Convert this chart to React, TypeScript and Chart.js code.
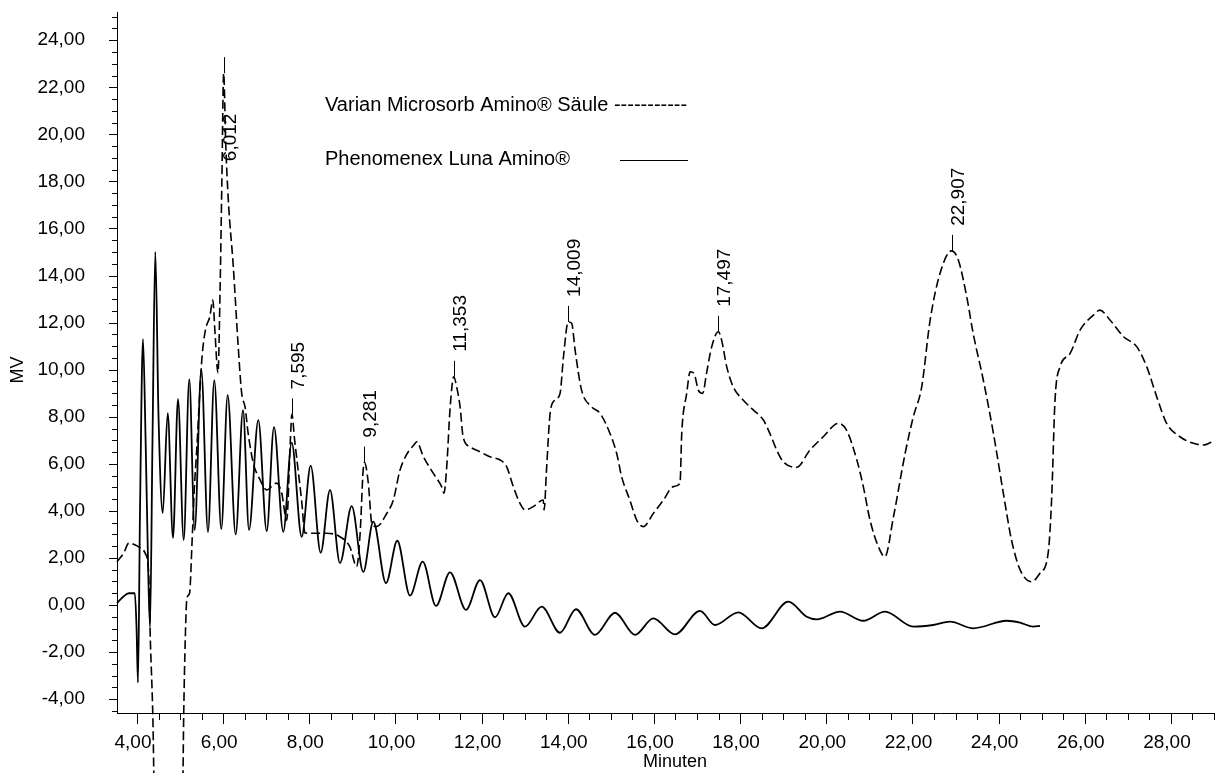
import { useEffect, useRef } from "react";
import { Chart, registerables } from "chart.js";

Chart.register(...registerables);

// ---- axis ticks ----
const X_TICKS = [4, 6, 8, 10, 12, 14, 16, 18, 20, 22, 24, 26, 28];
const Y_TICKS = [-4, -2, 0, 2, 4, 6, 8, 10, 12, 14, 16, 18, 20, 22, 24];
const X_MIN = 3.536;
const X_MAX = 29.0;
const Y_MIN = -4.59;
const Y_MAX = 25.2;

// ---- series names ----
const SERIES_NAMES = ["Varian Microsorb Amino® Säule", "Phenomenex Luna Amino®"];

// ---- Varian Microsorb Amino (dashed) ----
const VARIAN_X = [
  3.536, 3.69, 3.81, 3.96, 4.08, 4.19, 4.27, 4.31, 4.37, 4.4, 4.7, 5.06, 5.085, 5.12, 5.16, 5.22,
  5.28, 5.33, 5.39, 5.46, 5.51, 5.59, 5.69, 5.76, 5.81, 5.88, 5.93, 5.97, 6.012, 6.06, 6.12, 6.235,
  6.35, 6.43, 6.51, 6.58, 6.7, 6.86, 7.01, 7.24, 7.36, 7.475, 7.56, 7.595, 7.66, 7.82, 7.9, 8.09,
  8.4, 8.71, 8.94, 9.1, 9.18, 9.25, 9.281, 9.37, 9.45, 9.56, 9.8, 9.95, 10.1, 10.26, 10.45, 10.49,
  10.65, 10.88, 11.07, 11.126, 11.19, 11.27, 11.353, 11.42, 11.5, 11.57, 11.73, 11.96, 12.19, 12.43,
  12.58, 12.735, 12.89, 13.01, 13.2, 13.43, 13.45, 13.51, 13.59, 13.7, 13.82, 13.9, 14.009, 14.09,
  14.17, 14.32, 14.555, 14.75, 14.98, 15.135, 15.25, 15.44, 15.6, 15.75, 15.985, 16.22, 16.45,
  16.605, 16.645, 16.76, 16.84, 16.93, 17.03, 17.13, 17.22, 17.34, 17.497, 17.57, 17.69, 17.84,
  18.07, 18.31, 18.54, 18.69, 18.85, 19.0, 19.31, 19.62, 19.93, 20.28, 20.47, 20.71, 20.86, 21.015,
  21.21, 21.36, 21.56, 21.83, 22.02, 22.215, 22.41, 22.64, 22.907, 23.065, 23.26, 23.41, 23.645,
  23.88, 24.11, 24.3, 24.5, 24.77, 24.96, 25.15, 25.23, 25.31, 25.425, 25.66, 25.89, 26.2, 26.35,
  26.59, 26.9, 27.21, 27.44, 27.67, 27.9, 28.21, 28.52, 28.75, 29.02,
];
const VARIAN_Y = [
  1.84, 2.2, 2.63, 2.55, 2.42, 2.2, 1.36, -1.49, -4.9, -8.0, -14.0, -8.0, -4.6, -1.49, 0.3, 0.5,
  2.76, 4.9, 6.7, 9.1, 10.55, 11.7, 12.25, 12.96, 11.6, 9.86, 13.5, 18.0, 22.6, 19.6, 17.2, 14.4,
  10.97, 9.0, 8.4, 7.3, 6.03, 5.31, 4.89, 5.18, 4.75, 3.6, 7.0, 8.1, 7.0, 4.46, 3.06, 3.05,
  3.05, 2.9, 2.48, 1.63, 3.06, 5.73, 6.05, 5.18, 3.48, 3.33, 3.9, 4.46, 5.7, 6.4, 6.85, 6.94,
  6.3, 5.59, 5.03, 4.75, 5.88, 8.42, 9.7, 9.27, 8.42, 7.15, 6.72, 6.51, 6.3, 6.16,
  5.88, 5.03, 4.32, 4.04, 4.18, 4.46, 4.04, 5.88, 8.14, 8.71, 8.99, 10.55, 12.03, 11.97,
  10.83, 9.13, 8.42, 8.14, 7.29, 6.44, 5.45, 4.46, 3.61, 3.33, 3.89, 4.46, 5.03,
  5.17, 7.29, 8.99, 9.91, 9.84, 9.13, 8.99, 9.84, 10.97, 11.61, 11.26, 10.12, 9.27,
  8.71, 8.28, 7.86, 7.29, 6.58, 6.09, 5.85, 6.58, 7.15, 7.72, 7.43, 6.16, 5.03, 3.61,
  2.48, 2.05, 3.75, 6.44, 8.0, 9.27, 12.1, 14.09, 15.05, 14.66, 13.1, 11.54, 9.56,
  7.29, 4.75, 2.76, 1.49, 0.99, 1.35, 2.2, 4.46, 8.71, 10.12, 10.69, 11.68, 12.32, 12.53,
  12.1, 11.4, 10.97, 10.12, 8.85, 7.72, 7.15, 6.87, 6.8, 7.0,
];

// ---- Phenomenex Luna Amino (solid) ----
const LUNA_X = [
  3.536, 3.68, 3.81, 3.95, 3.99, 4.023, 4.07, 4.139, 4.2, 4.26, 4.302, 4.36, 4.425, 4.5, 4.597,
  4.713, 4.836, 4.952, 5.084, 5.214, 5.339, 5.493, 5.648, 5.794, 5.957, 6.105, 6.291, 6.461, 6.6,
  6.816, 7.011, 7.18, 7.396, 7.591, 7.823, 8.032, 8.264, 8.48, 8.712, 8.984, 9.253, 9.485, 9.78,
  10.042, 10.337, 10.632, 10.941, 11.266, 11.637, 11.962, 12.31, 12.619, 13.006, 13.394, 13.819,
  14.19, 14.631, 15.096, 15.56, 15.985, 16.488, 17.069, 17.417, 17.958, 18.501, 19.118, 19.545,
  19.778, 20.319, 20.859, 21.363, 22.02, 22.484, 22.872, 23.413, 24.188, 24.497, 24.806, 24.961,
];
const LUNA_Y = [
  0.08, 0.35, 0.5, 0.5, -1.0, -3.3, 4.0, 11.3, 7.0, 1.5, -0.93, 7.0, 15.0, 8.0, 3.9,
  8.15, 2.85, 8.75, 2.76, 9.6, 3.19, 10.0, 3.1, 9.56, 3.23, 8.92, 3.0, 8.28, 3.19,
  7.86, 3.14, 7.56, 3.11, 6.9, 2.9, 5.92, 2.22, 4.89, 1.78, 4.2, 1.41, 3.54, 0.93,
  2.73, 0.4, 1.84, -0.04, 1.39, -0.21, 1.06, -0.52, 0.5, -0.92, -0.07, -1.18,
  -0.18, -1.27, -0.33, -1.27, -0.57, -1.25, -0.25, -0.85, -0.31, -0.99, 0.14, -0.5,
  -0.61, -0.28, -0.67, -0.28, -0.92, -0.85, -0.71, -0.99, -0.67, -0.75, -0.92, -0.89,
];

// ---- peak annotations (Varian trace) ----
const PEAK_X = [6.012, 7.595, 9.281, 11.353, 14.009, 17.497, 22.907];
const PEAK_Y = [22.6, 8.1, 6.05, 9.7, 12.03, 11.61, 15.05];
const PEAK_LABELS = ["6,012", "7,595", "9,281", "11,353", "14,009", "17,497", "22,907"];

const FONT = '"Liberation Sans", Arial, sans-serif';

const fmt = (v: number) => Number(v).toFixed(2).replace(".", ",");

const overlayPlugin = {
  id: "overlay",
  afterDraw(chart: any) {
    const { ctx, chartArea } = chart;
    const xs = chart.scales.x;
    const ys = chart.scales.y;
    ctx.save();
    ctx.strokeStyle = "#000";
    ctx.fillStyle = "#000";
    ctx.lineWidth = 1;

    // x tick marks (minor every 0.5, major every 2)
    for (let v = Math.ceil(xs.min * 2) / 2; v <= xs.max + 1e-9; v += 0.5) {
      const px = Math.round(xs.getPixelForValue(v)) + 0.5;
      const major = Math.abs(v / 2 - Math.round(v / 2)) < 1e-9;
      ctx.beginPath();
      ctx.moveTo(px, chartArea.bottom);
      ctx.lineTo(px, chartArea.bottom + (major ? 11 : 7));
      ctx.stroke();
    }
    // y tick marks
    for (let v = Math.ceil(ys.min * 2) / 2; v <= ys.max + 1e-9; v += 0.5) {
      const py = Math.round(ys.getPixelForValue(v)) + 0.5;
      const major = Math.abs(v / 2 - Math.round(v / 2)) < 1e-9;
      ctx.beginPath();
      ctx.moveTo(chartArea.left, py);
      ctx.lineTo(chartArea.left - (major ? 8 : 5), py);
      ctx.stroke();
    }

    // peak labels
    ctx.font = `19px ${FONT}`;
    for (let i = 0; i < PEAK_X.length; i++) {
      const px = Math.round(xs.getPixelForValue(PEAK_X[i])) + 0.5;
      const py = ys.getPixelForValue(PEAK_Y[i]);
      const lineTop = py - 16;
      ctx.beginPath();
      ctx.moveTo(px, py);
      ctx.lineTo(px, lineTop);
      ctx.stroke();
      const w = ctx.measureText(PEAK_LABELS[i]).width;
      let start = lineTop - 9;
      if (start - w < chartArea.top + 50) start = py + 88;
      ctx.save();
      ctx.translate(px + 6, start);
      ctx.rotate(-Math.PI / 2);
      ctx.textAlign = "left";
      ctx.textBaseline = "middle";
      ctx.fillText(PEAK_LABELS[i], 0, 0);
      ctx.restore();
    }

    // legend
    ctx.font = `20px ${FONT}`;
    ctx.textAlign = "left";
    ctx.textBaseline = "alphabetic";
    ctx.fillText(SERIES_NAMES[0] + " -----------", 325, 111);
    ctx.fillText(SERIES_NAMES[1], 325, 165);
    ctx.lineWidth = 1.2;
    ctx.beginPath();
    ctx.moveTo(620, 160.5);
    ctx.lineTo(688, 160.5);
    ctx.stroke();

    // axis titles
    ctx.font = `18px ${FONT}`;
    ctx.textAlign = "center";
    ctx.textBaseline = "middle";
    ctx.fillText("Minuten", 675, 762);
    ctx.save();
    ctx.translate(18, 370);
    ctx.rotate(-Math.PI / 2);
    ctx.fillText("MV", 0, 0);
    ctx.restore();

    ctx.restore();
  },
};

export default function App() {
  const ref = useRef<HTMLCanvasElement | null>(null);

  useEffect(() => {
    if (!ref.current) return;
    Chart.defaults.font.family = FONT;
    const varian = VARIAN_X.map((x, i) => ({ x, y: VARIAN_Y[i] }));
    const luna = LUNA_X.map((x, i) => ({ x, y: LUNA_Y[i] }));
    const chart = new Chart(ref.current, {
      type: "line",
      data: {
        datasets: [
          {
            label: SERIES_NAMES[0],
            data: varian,
            borderColor: "#000",
            borderWidth: 1.6,
            borderDash: [9, 4],
            pointRadius: 0,
            cubicInterpolationMode: "monotone",
            fill: false,
            clip: false as any,
          },
          {
            label: SERIES_NAMES[1],
            data: luna,
            borderColor: "#000",
            borderWidth: 1.8,
            pointRadius: 0,
            cubicInterpolationMode: "monotone",
            fill: false,
            clip: false as any,
          },
        ],
      },
      options: {
        animation: false,
        responsive: false,
        devicePixelRatio: 1,
        layout: { padding: { left: 0, right: 1, top: 12, bottom: 0 } },
        plugins: { legend: { display: false }, tooltip: { enabled: false } },
        scales: {
          x: {
            type: "linear",
            min: X_MIN,
            max: X_MAX,
            grid: { display: false },
            border: { display: true, color: "#000", width: 1 },
            afterBuildTicks: (scale: any) => {
              scale.ticks = X_TICKS.map((v) => ({ value: v }));
            },
            afterFit: (scale: any) => {
              scale.height = 60;
              scale.paddingLeft = 0;
              scale.paddingRight = 0;
            },
            ticks: {
              autoSkip: false,
              maxRotation: 0,
              color: "#000",
              padding: 10,
              labelOffset: -4,
              font: { size: 19, family: FONT },
              callback: (v: any) => fmt(v),
            },
          },
          y: {
            type: "linear",
            min: Y_MIN,
            max: Y_MAX,
            grid: { display: false },
            border: { display: true, color: "#000", width: 1 },
            afterBuildTicks: (scale: any) => {
              scale.ticks = Y_TICKS.map((v) => ({ value: v }));
            },
            afterFit: (scale: any) => {
              scale.width = 117;
              scale.paddingTop = 0;
              scale.paddingBottom = 0;
            },
            ticks: {
              autoSkip: false,
              color: "#000",
              padding: 24,
              font: { size: 19, family: FONT },
              callback: (v: any) => fmt(v),
            },
          },
        },
      },
      plugins: [overlayPlugin],
    });
    return () => chart.destroy();
  }, []);

  return (
    <div style={{ position: "absolute", left: 0, top: 0, width: 1215, height: 773, background: "#fff" }}>
      <canvas ref={ref} width={1215} height={773} style={{ display: "block", width: 1215, height: 773 }} />
    </div>
  );
}
